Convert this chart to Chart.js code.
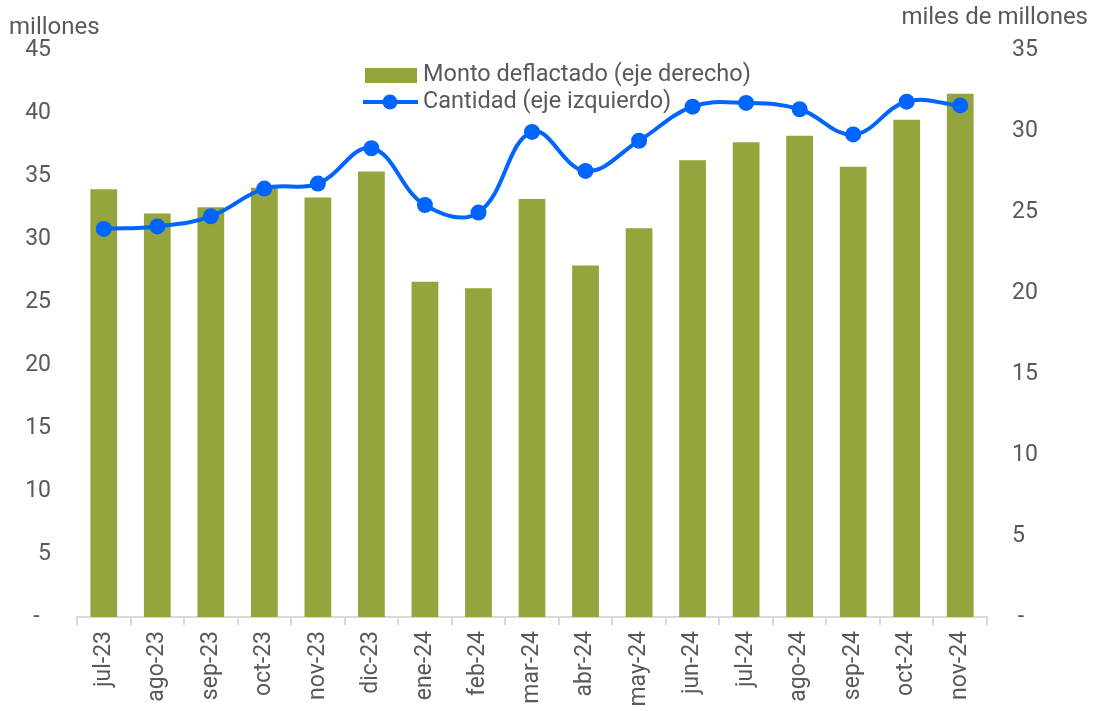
<!DOCTYPE html>
<html>
<head>
<meta charset="utf-8">
<script src="https://cdn.jsdelivr.net/npm/chart.js@4.4.1/dist/chart.umd.min.js"></script>
<style>
  html, body { margin: 0; padding: 0; background: #fff; }
  #wrap { position: relative; width: 1095px; height: 711px; }
</style>
</head>
<body>
<div id="wrap"><canvas id="myChart" width="1095" height="711"></canvas></div>
<script>
var meses = ['jul-23', 'ago-23', 'sep-23', 'oct-23', 'nov-23', 'dic-23', 'ene-24', 'feb-24', 'mar-24',
             'abr-24', 'may-24', 'jun-24', 'jul-24', 'ago-24', 'sep-24', 'oct-24', 'nov-24'];
// miles de millones (eje derecho)
var montoDeflactado = [26.4, 24.9, 25.3, 26.5, 25.9, 27.5, 20.7, 20.3, 25.8,
                       21.7, 24.0, 28.2, 29.3, 29.7, 27.8, 30.7, 32.3];
// millones (eje izquierdo)
var cantidad = [30.8, 31.0, 31.8, 34.0, 34.4, 37.2, 32.7, 32.1, 38.5,
                35.4, 37.8, 40.5, 40.8, 40.3, 38.3, 40.9, 40.6];

var verde = '#94a53d';
var azul = '#0064ff';
var gris = '#595959';
var fuente = 'Roboto';

var textos = {
    id: 'textos',
    afterDraw: function(chart) {
        var ctx = chart.ctx;
        ctx.save();
        ctx.fillStyle = gris;
        ctx.font = '24px ' + fuente;
        ctx.textBaseline = 'middle';
        ctx.textAlign = 'left';
        ctx.fillText('millones', 9, 28);
        ctx.textAlign = 'right';
        ctx.fillText('miles de millones', 1088, 18);

        // leyenda
        ctx.font = '23.5px ' + fuente;
        ctx.textAlign = 'left';
        ctx.fillStyle = verde;
        ctx.fillRect(365, 68, 52, 15);
        ctx.fillStyle = gris;
        ctx.fillText('Monto deflactado (eje derecho)', 423, 75);
        ctx.strokeStyle = azul;
        ctx.lineWidth = 4;
        ctx.beginPath();
        ctx.moveTo(363, 102);
        ctx.lineTo(418, 102);
        ctx.stroke();
        ctx.fillStyle = azul;
        ctx.beginPath();
        ctx.arc(390, 102, 7.5, 0, Math.PI * 2);
        ctx.fill();
        ctx.fillStyle = gris;
        ctx.fillText('Cantidad (eje izquierdo)', 423, 102);
        ctx.restore();
    }
};

var ctx = document.getElementById('myChart').getContext('2d');
var myChart = new Chart(ctx, {
    type: 'bar',
    data: {
        labels: meses,
        datasets: [{
            type: 'line',
            label: 'Cantidad (eje izquierdo)',
            data: cantidad,
            yAxisID: 'y',
            borderColor: azul,
            backgroundColor: azul,
            borderWidth: 4,
            pointRadius: 8,
            pointHoverRadius: 8,
            pointBackgroundColor: azul,
            pointBorderWidth: 0,
            tension: 0.4,
            order: 0
        }, {
            type: 'bar',
            label: 'Monto deflactado (eje derecho)',
            data: montoDeflactado,
            yAxisID: 'y1',
            backgroundColor: verde,
            barPercentage: 0.5,
            categoryPercentage: 1.0,
            order: 1
        }]
    },
    options: {
        responsive: false,
        animation: false,
        layout: { padding: { top: 50, left: 0, right: 0, bottom: 0 } },
        plugins: {
            legend: { display: false },
            tooltip: { enabled: false }
        },
        scales: {
            x: {
                offset: true,
                grid: {
                    display: true,
                    drawOnChartArea: false,
                    drawTicks: true,
                    tickLength: 8,
                    color: '#d9d9d9',
                    lineWidth: 2
                },
                border: { color: '#d9d9d9', width: 2 },
                ticks: {
                    color: gris,
                    font: { family: fuente, size: 23 },
                    minRotation: 90,
                    maxRotation: 90,
                    padding: 6
                },
                afterFit: function(scale) { scale.height = 94; }
            },
            y: {
                position: 'left',
                min: 0,
                max: 45,
                grid: { display: false },
                border: { display: false },
                ticks: {
                    stepSize: 5,
                    color: gris,
                    font: { family: fuente, size: 23 },
                    padding: 18,
                    callback: function(v) { return v === 0 ? '-  ' : v; }
                },
                afterFit: function(scale) { scale.width = 77; }
            },
            y1: {
                position: 'right',
                min: 0,
                max: 35,
                grid: { display: false },
                border: { display: false },
                ticks: {
                    stepSize: 5,
                    color: gris,
                    font: { family: fuente, size: 23 },
                    padding: 17,
                    callback: function(v) { return v === 0 ? ' -' : v; }
                },
                afterFit: function(scale) { scale.width = 108; }
            }
        }
    },
    plugins: [textos]
});
</script>
</body>
</html>
